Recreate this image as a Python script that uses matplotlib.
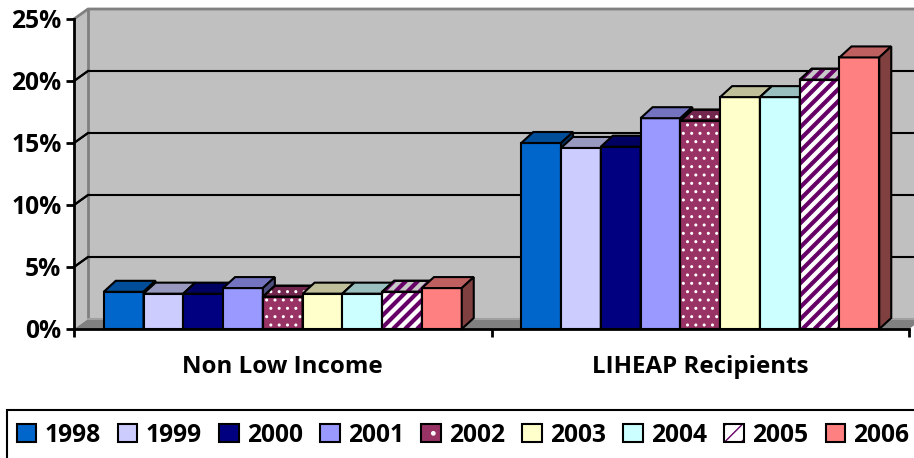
import matplotlib
matplotlib.use('Agg')
import matplotlib.pyplot as plt
import numpy as np
from matplotlib.patches import Polygon, Rectangle, Patch
from matplotlib.collections import LineCollection
from matplotlib.ticker import PercentFormatter, FixedLocator
from matplotlib.legend_handler import HandlerTuple
import matplotlib.colors as mcolors

plt.rcParams['font.family'] = ['Open Sans', 'DejaVu Sans']
plt.rcParams['font.weight'] = 'bold'

# data (percent)
categories = ['Non Low Income', 'LIHEAP Recipients']
years = ['1998', '1999', '2000', '2001', '2002', '2003', '2004', '2005', '2006']
non_low_income = [3.0, 2.85, 2.85, 3.3, 2.6, 2.85, 2.85, 3.0, 3.3]
liheap = [15.0, 14.6, 14.7, 17.0, 16.8, 18.7, 18.7, 20.1, 21.9]
colors = ['#0066CC', '#CCCCFF', '#000080', '#9999FF', '#993366',
          '#FFFFCC', '#CCFFFF', '#FFFFFF', '#FF8080']
patterns = {'2002': 'dots', '2005': 'stripes'}

W, H = 914, 458
fig = plt.figure(figsize=(W / 100, H / 100), dpi=100)
# front plane of the 3d box
ax = fig.add_axes([74 / W, (H - 329) / H, (909 - 74) / W, 310 / H])
ax.set_xlim(0, 2)
ax.set_ylim(0, 25)
ax.patch.set_visible(False)

px_x = (909 - 74) / 2.0   # pixels per x unit
px_y = 310 / 25.0         # pixels per percent
wdx, wdy = 14 / px_x, 10 / px_y   # wall depth
bdx, bdy = 12 / px_x, 11 / px_y   # bar depth

wall = '#C0C0C0'
edge_gray = '#808080'

# walls and floor
ax.add_patch(Polygon([(0, 0), (0, 25), (wdx, 25 + wdy), (wdx, wdy)],
                     closed=True, facecolor=wall, edgecolor='none', zorder=0, clip_on=False))
ax.add_patch(Rectangle((wdx, wdy), 2.2, 25, facecolor=wall, edgecolor='none',
                       zorder=0, clip_on=False))
ax.add_patch(Polygon([(0, 0), (wdx, wdy), (2 + wdx, wdy), (2, 0)], closed=True,
                     facecolor=edge_gray, edgecolor='none', zorder=0.5, clip_on=False))
ax.plot([wdx, wdx], [wdy, 25 + wdy], color=edge_gray, lw=2, zorder=1, clip_on=False)
ax.plot([0, wdx, 2.2], [25, 25 + wdy, 25 + wdy], color=edge_gray, lw=2, zorder=1, clip_on=False)
ax.plot([wdx, 2.2], [wdy, wdy], color='#A0A0A0', lw=1.5, zorder=1, clip_on=False)
for v in [5, 10, 15, 20]:
    ax.plot([0, wdx, 2.2], [v, v + wdy, v + wdy], color='black', lw=1.5,
            zorder=1, clip_on=False)


def shade(c, f):
    r, g, b = mcolors.to_rgb(c)
    return (r * f, g * f, b * f)


def corners(patch):
    if isinstance(patch, Rectangle):
        return patch.get_path().transformed(patch.get_patch_transform()).vertices
    return patch.get_xy()


def add_stripes(patch, z, period=12, color='#660066', lw=3.0):
    verts = corners(patch)
    x0, x1 = verts[:, 0].min(), verts[:, 0].max()
    y0, y1 = verts[:, 1].min(), verts[:, 1].max()
    run = (y1 - y0) * px_y / px_x
    segs = [[(x, y0), (x + run, y1)]
            for x in np.arange(x0 - run, x1 + period / px_x, period / px_x)]
    lc = LineCollection(segs, colors=color, linewidths=lw, zorder=z)
    ax.add_collection(lc)
    lc.set_clip_path(patch)


def add_dots(patch, z):
    ax.add_patch(Polygon(corners(patch), closed=True, facecolor='none',
                         edgecolor='white', lw=0, hatch='..', zorder=z, clip_on=False))


values = np.array([non_low_income, liheap])
centers = np.arange(len(categories)) + 0.5
w = 358 / 9 / px_x

for k, year in enumerate(years):
    z = 3 + k * 0.1
    offs = (k - (len(years) - 1) / 2) * w
    face = colors[k]
    bars = ax.bar(centers + offs, values[:, k], width=w, color=face,
                  edgecolor='black', linewidth=1.5, zorder=z, clip_on=False)
    top_c = shade(face, 0.75) if patterns.get(year) != 'stripes' else '#C8C8C8'
    side_c = shade(face, 0.5)
    for rect in bars:
        x0, h, bw = rect.get_x(), rect.get_height(), rect.get_width()
        top = Polygon([(x0, h), (x0 + bdx, h + bdy), (x0 + bw + bdx, h + bdy), (x0 + bw, h)],
                      closed=True, facecolor=top_c, edgecolor='black', lw=1.5,
                      zorder=z + 0.01, clip_on=False)
        side = Polygon([(x0 + bw, 0), (x0 + bw + bdx, bdy), (x0 + bw + bdx, h + bdy), (x0 + bw, h)],
                       closed=True, facecolor=side_c, edgecolor='black', lw=1.5,
                       zorder=z + 0.01, clip_on=False)
        ax.add_patch(top)
        ax.add_patch(side)
        if patterns.get(year) == 'dots':
            add_dots(rect, z + 0.005)
            add_dots(top, z + 0.015)
        elif patterns.get(year) == 'stripes':
            add_stripes(rect, z + 0.005)
            add_stripes(top, z + 0.015)
        if year in patterns:
            for p in (rect, top):
                ax.add_patch(Polygon(corners(p), closed=True, fill=False, edgecolor='black',
                                     lw=1.5, zorder=z + 0.018, clip_on=False))

# axes
for s in ['top', 'right']:
    ax.spines[s].set_visible(False)
for s in ['left', 'bottom']:
    ax.spines[s].set_linewidth(2)
    ax.spines[s].set_zorder(10)
ax.set_yticks([0, 5, 10, 15, 20, 25])
ax.yaxis.set_major_formatter(PercentFormatter(decimals=0))
ax.tick_params(axis='y', direction='out', length=6, width=2, labelsize=17.7, pad=3)
ax.set_xticks([0, 1, 2])
ax.set_xticklabels([])
ax.xaxis.set_minor_locator(FixedLocator(centers))
ax.set_xticklabels(categories, minor=True)
ax.tick_params(axis='x', which='major', direction='out', length=6, width=2)
ax.tick_params(axis='x', which='minor', length=0, labelsize=17.4, pad=19)

# left wall tick connectors
for v in [5, 10, 15, 20]:
    ax.plot([0, wdx], [v, v + wdy], color='black', lw=1.5, zorder=1.5, clip_on=False)

# legend
fig.add_artist(Rectangle((7 / W, -0.2), 1.0, 48 / H + 0.2, transform=fig.transFigure,
                         fill=False, edgecolor='black', lw=1.5))
handles = []
for k, year in enumerate(years):
    if patterns.get(year) == 'dots':
        h = (Patch(facecolor=colors[k], edgecolor='black', lw=1.5),
             Patch(facecolor='none', edgecolor='white', lw=0, hatch='.'))
    elif patterns.get(year) == 'stripes':
        hp = Patch(facecolor='white', edgecolor='#660066', lw=0, hatch='//')
        try:
            hp.set_hatch_linewidth(2.5)
        except AttributeError:
            pass
        h = (hp, Patch(facecolor='none', edgecolor='black', lw=1.5))
    else:
        h = Patch(facecolor=colors[k], edgecolor='black', lw=1.5)
    handles.append(h)
fig.legend(handles, years, ncol=9, loc='center left', bbox_to_anchor=(17 / W, 23 / H),
           frameon=False, fontsize=17.7, handlelength=0.78, handleheight=0.78,
           handletextpad=0.35, columnspacing=0.7, borderpad=0, borderaxespad=0,
           handler_map={tuple: HandlerTuple(ndivide=1)})

fig.savefig('out.png', dpi=100)
